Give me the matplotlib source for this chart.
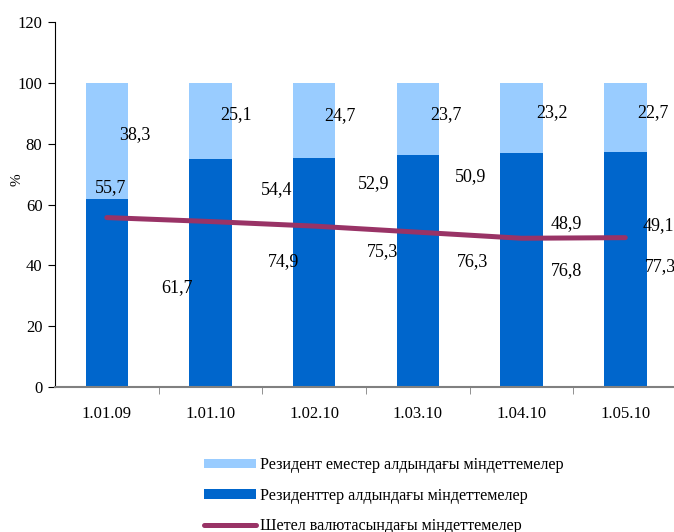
import matplotlib.pyplot as plt
import numpy as np

plt.rcParams['font.family'] = ['Liberation Serif', 'DejaVu Serif']

# data
dates = ['1.01.09', '1.01.10', '1.02.10', '1.03.10', '1.04.10', '1.05.10']
residents = [61.7, 74.9, 75.3, 76.3, 76.8, 77.3]
non_residents = [38.3, 25.1, 24.7, 23.7, 23.2, 22.7]
foreign_curr = [55.7, 54.4, 52.9, 50.9, 48.9, 49.1]

lab_res = 'Резиденттер алдындағы міндеттемелер'
lab_nonres = 'Резидент еместер алдындағы міндеттемелер'
lab_fx = 'Шетел валютасындағы міндеттемелер'

# label placement as drawn in the original (offset from bar centre, height)
nonres_dx = [0.27, 0.25, 0.25, 0.27, 0.29, 0.27]
nonres_y = [82.9, 89.5, 89.1, 89.5, 90.1, 90.1]
fx_dx = [0.04, 0.64, 0.57, 0.51, 0.43, 0.32]
fx_y = [65.5, 64.8, 66.8, 69.1, 53.6, 53.0]
res_dx = [0.68, 0.70, 0.66, 0.53, 0.43, 0.34]
res_y = [32.6, 41.1, 44.4, 41.1, 38.2, 39.5]

x = np.arange(len(dates))

fig = plt.figure(figsize=(6.74, 5.32), dpi=100)
# plot area runs past the right edge, as in the original (cut off there)
ax = fig.add_axes([0.0816, 0.2726, 0.923, 0.686])

b1 = ax.bar(x, residents, width=0.41, color='#0066CC', label=lab_res)
b2 = ax.bar(x, non_residents, width=0.41, bottom=residents, color='#99CCFF', label=lab_nonres)
l1, = ax.plot(x, foreign_curr, color='#993366', lw=3.6, solid_capstyle='round', label=lab_fx)

for i in range(len(dates)):
    ax.text(x[i] + nonres_dx[i], nonres_y[i], f'{non_residents[i]:.1f}'.replace('.', ','),
            ha='center', va='center', fontsize=13, clip_on=False)
    ax.text(x[i] + fx_dx[i], fx_y[i], f'{foreign_curr[i]:.1f}'.replace('.', ','),
            ha='center', va='center', fontsize=13, clip_on=False)
    ax.text(x[i] + res_dx[i], res_y[i], f'{residents[i]:.1f}'.replace('.', ','),
            ha='center', va='center', fontsize=13, clip_on=False)

ax.set_ylim(0, 120)
ax.set_yticks(range(0, 121, 20))
ax.set_xlim(-0.5, 5.5)

ax.set_xticks(x)
ax.set_xticklabels(dates, fontsize=12)
ax.tick_params(axis='x', which='major', length=0, pad=14)
ax.set_xticks(x[:-1] + 0.5, minor=True)
ax.tick_params(axis='x', which='minor', length=5, color='#808080', direction='out')
ax.tick_params(axis='y', length=5, labelsize=12, pad=4)

for s in ['top', 'right']:
    ax.spines[s].set_visible(False)
ax.spines['bottom'].set_color('#808080')
ax.spines['bottom'].set_linewidth(1.5)
ax.spines['left'].set_color('black')

fig.text(17 / 674, 1 - 180 / 532, '%', rotation=90, ha='center', va='center', fontsize=11)

fig.legend([b2, b1, l1], [lab_nonres, lab_res, lab_fx], loc='upper left',
           bbox_to_anchor=(196 / 674, 1 - 449 / 532), frameon=False, fontsize=11.6,
           handlelength=3.2, handleheight=0.55, handletextpad=0.25, labelspacing=0.9,
           borderpad=0)

fig.savefig('out.png', dpi=100)
